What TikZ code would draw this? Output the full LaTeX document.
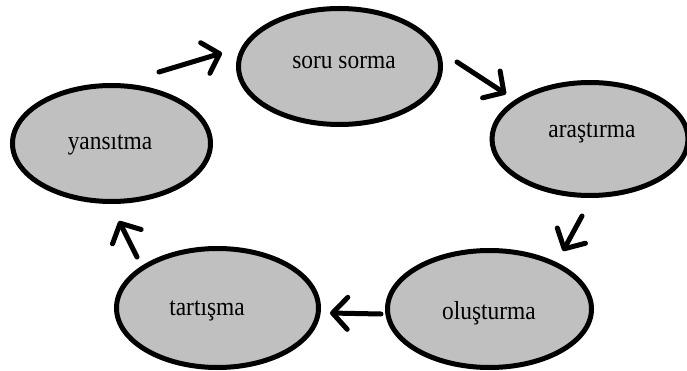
\documentclass[tikz,border=0pt]{standalone}
\usepackage{fontspec}
\setmainfont[FakeStretch=0.9]{Liberation Serif}
\usetikzlibrary{shapes.geometric,arrows.meta}
\definecolor{ovalgray}{HTML}{C0C0C0}
\tikzset{
  oval/.style={ellipse, draw=black, fill=ovalgray, line width=5pt, inner sep=0pt},
  lbl/.style={inner sep=0pt, font=\fontsize{26}{26}\selectfont},
  flow/.style={line width=5pt, line cap=round,
    -{Straight Barb[length=15pt,width=32pt,line cap=round,line join=round]}}
}
\begin{document}
\begin{tikzpicture}[x=1pt,y=-1pt]
  \useasboundingbox (0,0) rectangle (687,371);
  % stages of the cycle
  \node[oval, minimum width=202pt, minimum height=116pt] (soru) at (339.5,66.5) {};
  \node[oval, minimum width=196pt, minimum height=113pt] (arastirma) at (590,139) {};
  \node[oval, minimum width=204pt, minimum height=117pt] (olusturma) at (489.5,309) {};
  \node[oval, minimum width=202pt, minimum height=119pt] (tartisma) at (217.5,308) {};
  \node[oval, minimum width=198pt, minimum height=116pt] (yansitma) at (111.5,143.5) {};
  % stage names
  \node[lbl] (tsoru) at (344,63) {soru sorma};
  \node[lbl] (tarastirma) at (592,133) {araştırma};
  \node[lbl] (tolusturma) at (489,313) {oluşturma};
  \node[lbl] (ttartisma) at (207,311) {tartışma};
  \node[lbl] (tyansitma) at (110,145) {yansıtma};
  % arrow ends
  \coordinate (a1s) at (159,72);
  \coordinate (a1e) at (222,53);
  \coordinate (a2s) at (457,62);
  \coordinate (a2e) at (506,94);
  \coordinate (a3s) at (582,216);
  \coordinate (a3e) at (563,251);
  \coordinate (a4s) at (381,314);
  \coordinate (a4e) at (330,313);
  \coordinate (a5s) at (137,257);
  \coordinate (a5e) at (119,221);
  \draw[flow] (a1s) -- (a1e);
  \draw[flow] (a2s) -- (a2e);
  \draw[flow] (a3s) -- (a3e);
  \draw[flow] (a4s) -- (a4e);
  \draw[flow] (a5s) -- (a5e);
\end{tikzpicture}
\end{document}
